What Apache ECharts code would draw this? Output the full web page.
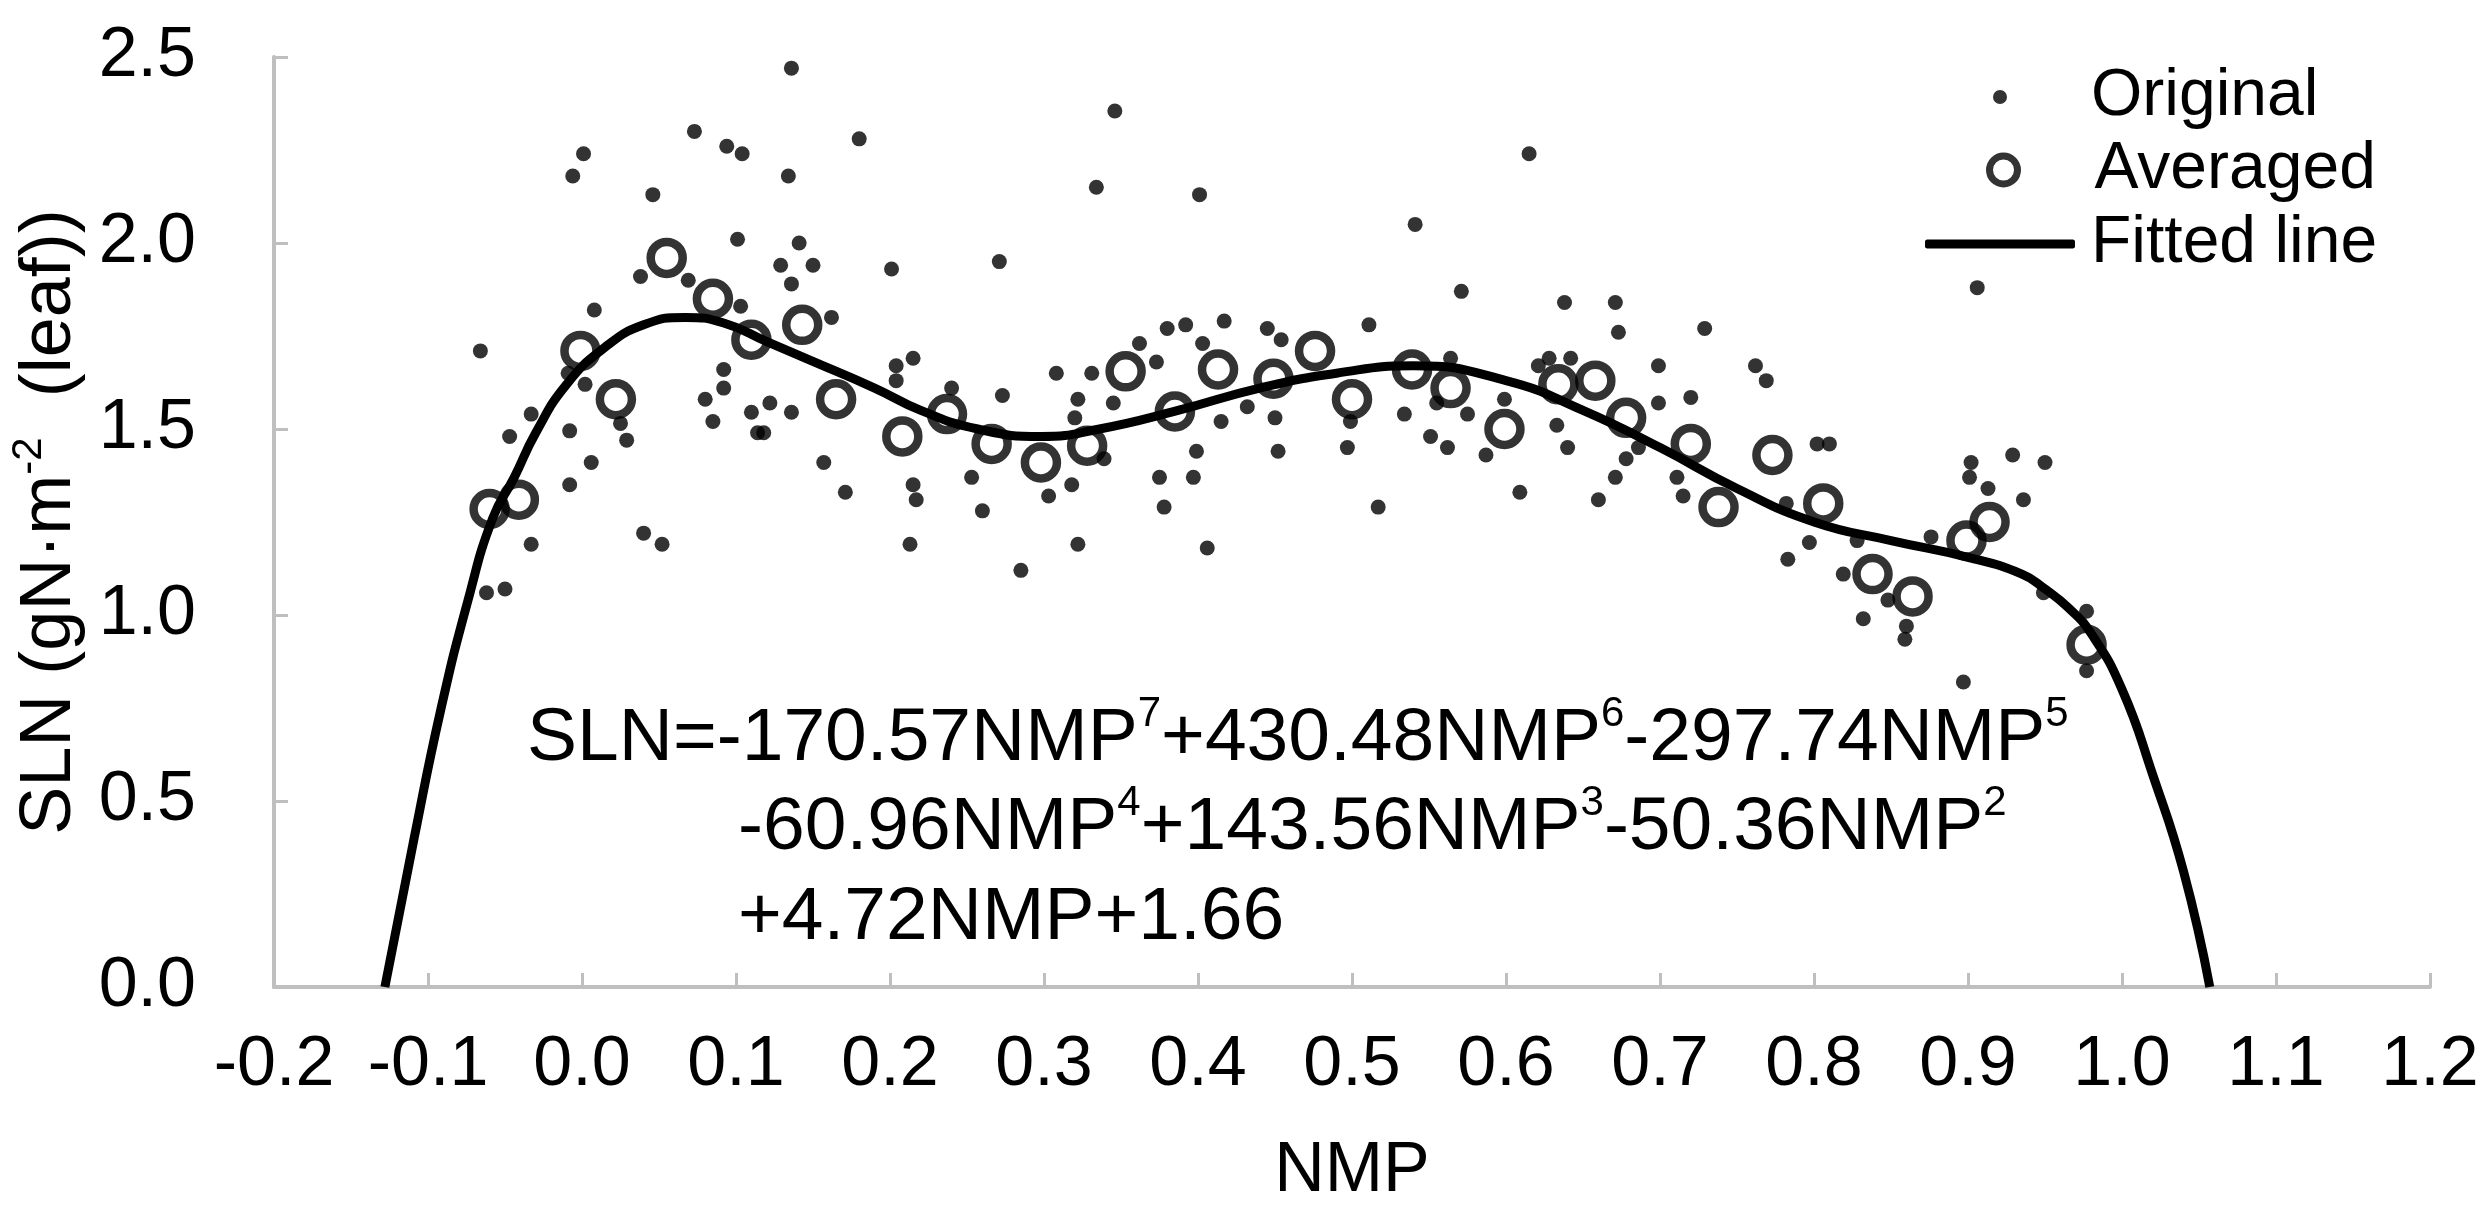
<!DOCTYPE html>
<html>
<head>
<meta charset="utf-8">
<script src="https://cdn.jsdelivr.net/npm/echarts@6/dist/echarts.min.js"></script>
<style>
html,body{margin:0;padding:0;background:#fff;}
#chart{width:2490px;height:1217px;}
</style>
</head>
<body>
<div id="chart"></div>
<script>
// ---- data ----
const originalPoints = [
  [0.136,2.47],[0.073,2.30],[0.094,2.26],[0.104,2.24],[0.180,2.28],[0.001,2.24],[-0.006,2.18],
  [0.134,2.18],[0.046,2.13],[0.101,2.01],[0.141,2.00],[0.129,1.94],[0.150,1.94],[0.136,1.89],
  [0.201,1.93],[0.038,1.91],[0.069,1.90],[0.008,1.82],[-0.066,1.71],[0.103,1.83],[0.162,1.80],
  [0.092,1.66],[0.204,1.67],[0.215,1.69],[0.204,1.63],[0.240,1.61],[-0.009,1.65],
  [0.346,2.355],[0.334,2.15],[0.401,2.13],[0.541,2.05],[0.271,1.95],[0.571,1.87],[0.511,1.78],
  [0.417,1.79],[0.380,1.77],[0.392,1.78],[0.362,1.73],[0.373,1.68],[0.403,1.73],[0.308,1.65],
  [0.331,1.65],[0.445,1.77],[0.454,1.74],[0.564,1.69],
  [0.615,2.24],[0.638,1.84],[0.671,1.84],[0.673,1.76],[0.628,1.69],[0.642,1.69],[0.621,1.67],
  [0.273,1.59],[0.322,1.58],[0.157,1.41],[0.171,1.33],[0.215,1.35],[0.217,1.31],[0.213,1.19],
  [0.253,1.37],[0.260,1.28],[0.285,1.12],[0.303,1.32],[0.318,1.35],[0.322,1.19],[0.375,1.37],
  [0.378,1.29],[0.397,1.37],[0.399,1.44],[0.406,1.18],[0.415,1.52],[0.450,1.53],[0.452,1.44],
  [0.497,1.45],[0.517,1.29],[0.534,1.54],[0.551,1.48],[0.562,1.45],[0.575,1.54],[0.587,1.43],
  [0.609,1.33],[0.640,1.45],[0.660,1.31],[0.671,1.37],[0.678,1.42],[0.633,1.51],[0.345,1.57],
  [0.432,1.56],[0.555,1.57],[0.599,1.58],[0.320,1.53],[0.499,1.52],[0.339,1.42],
  [0.092,1.61],[0.080,1.58],[0.085,1.52],[0.110,1.545],[0.122,1.57],[0.136,1.545],[0.114,1.49],
  [0.118,1.49],[-0.008,1.495],[0.006,1.41],[-0.008,1.35],[-0.033,1.54],[-0.047,1.48],[0.029,1.47],
  [-0.033,1.19],[0.040,1.22],[0.052,1.19],[-0.050,1.07],[-0.062,1.06],[0.002,1.62],[0.025,1.515],
  [0.906,1.88],[0.729,1.77],[0.699,1.67],[0.762,1.67],[0.769,1.63],[0.720,1.585],[0.699,1.57],
  [0.711,1.37],[0.715,1.32],[0.802,1.46],[0.810,1.46],[0.929,1.43],[0.950,1.41],[0.902,1.41],
  [0.901,1.37],[0.913,1.34],[0.936,1.31],[0.783,1.15],[0.797,1.195],[0.819,1.11],[0.832,0.99],
  [0.859,0.935],[0.860,0.97],[0.848,1.04],[0.897,0.82],[0.977,1.01],[0.977,0.85],[0.876,1.21],
  [0.949,1.06],[0.828,1.20],[0.782,1.30],[0.686,1.45]
];
const averagedPoints = [
  [-0.060,1.285],[-0.041,1.31],[-0.001,1.71],[0.022,1.58],[0.055,1.96],[0.085,1.85],[0.110,1.74],
  [0.143,1.78],[0.165,1.58],[0.208,1.48],[0.237,1.54],[0.266,1.46],[0.298,1.41],[0.328,1.455],
  [0.353,1.655],[0.385,1.547],[0.413,1.66],[0.449,1.635],[0.476,1.71],[0.500,1.58],[0.539,1.66],
  [0.564,1.61],[0.599,1.50],[0.634,1.62],[0.658,1.63],[0.678,1.53],[0.720,1.46],[0.738,1.29],
  [0.773,1.43],[0.806,1.30],[0.838,1.11],[0.864,1.05],[0.899,1.20],[0.914,1.25],[0.977,0.92]
];
const fittedX = [-0.128,-0.109,-0.092,-0.074,-0.058,-0.044,-0.030,-0.010,0.015,0.040,0.067,0.092,
  0.120,0.148,0.190,0.220,0.257,0.298,0.336,0.387,0.440,0.490,0.540,0.600,0.650,0.700,0.750,
  0.800,0.850,0.900,0.935,0.950,0.965,0.980,1.000,1.020,1.040,1.057];
const fittedY = [0.00,0.40,0.74,1.04,1.26,1.37,1.49,1.62,1.72,1.78,1.80,1.785,
  1.735,1.685,1.61,1.55,1.50,1.48,1.50,1.55,1.61,1.65,1.67,1.63,1.55,1.45,1.34,
  1.25,1.20,1.155,1.11,1.07,1.02,0.95,0.80,0.57,0.31,0.00];
const xRange = [-0.2, 1.2, 0.1];
const yRange = [0, 2.5, 0.5];
const xTitle = 'NMP';
const seriesNames = ['Original', 'Averaged', 'Fitted line'];
const eqLines = [
  [['m','SLN=-170.57NMP'],['s','7'],['m','+430.48NMP'],['s','6'],['m','-297.74NMP'],['s','5']],
  [['m','-60.96NMP'],['s','4'],['m','+143.56NMP'],['s','3'],['m','-50.36NMP'],['s','2']],
  [['m','+4.72NMP+1.66']]
];

// ---- chart ----
const FONT = '"Liberation Sans", Arial, Helvetica, sans-serif';
const fitted = fittedX.map((x, i) => [x, fittedY[i]]);
const fmt = v => (Math.abs(v) < 1e-9 ? '0.0' : v.toFixed(1));
const axisGray = '#bfbfbf';

const eqPos = [[527, 739], [738, 828], [738, 918]];
const eqRich = {
  m: {fontFamily: FONT, fontSize: 75, color: '#000', lineHeight: 92},
  s: {fontFamily: FONT, fontSize: 42, color: '#555', lineHeight: 42, verticalAlign: 'top'}
};
const graphics = eqLines.map((parts, i) => ({
  type: 'text',
  x: eqPos[i][0], y: eqPos[i][1],
  silent: true,
  style: {
    text: parts.map(p => '{' + p[0] + '|' + p[1] + '}').join(''),
    rich: eqRich,
    verticalAlign: 'middle',
    align: 'left'
  }
}));

const legText = pad => ({fontFamily: FONT, fontSize: 66, color: '#000', padding: [0, 0, 0, pad]});

const chart = echarts.init(document.getElementById('chart'), null, {renderer: 'canvas'});
chart.setOption({
  animation: false,
  backgroundColor: '#fff',
  grid: {left: 262, right: 60, top: 57, bottom: 230, containLabel: false},
  legend: [
    {
      data: [seriesNames[0]], left: 1993, top: 64, orient: 'vertical',
      itemWidth: 14, itemHeight: 14, padding: 0, itemGap: 0, selectedMode: false,
      icon: 'circle', textStyle: legText(79)
    },
    {
      data: [seriesNames[1]], left: 1986, top: 137, orient: 'vertical',
      itemWidth: 28, itemHeight: 28, padding: 0, itemGap: 0, selectedMode: false,
      icon: 'circle', itemStyle: {borderWidth: 7}, textStyle: legText(72)
    },
    {
      data: [seriesNames[2]], left: 1925, top: 211, orient: 'vertical',
      itemWidth: 150, itemHeight: 9, padding: 0, itemGap: 0, selectedMode: false,
      icon: 'roundRect', symbolKeepAspect: false, textStyle: legText(11)
    }
  ],
  xAxis: {
    type: 'value', min: xRange[0], max: xRange[1], interval: xRange[2],
    name: xTitle, nameLocation: 'middle', nameGap: 150,
    nameTextStyle: {fontFamily: FONT, fontSize: 70, color: '#000'},
    axisLine: {show: true, onZero: false, lineStyle: {color: axisGray, width: 4}},
    axisTick: {show: true, inside: true, length: 14, lineStyle: {color: axisGray, width: 3}},
    axisLabel: {formatter: fmt, margin: 44, fontFamily: FONT, fontSize: 70, color: '#000',
      showMinLabel: true, showMaxLabel: true},
    splitLine: {show: false}
  },
  yAxis: {
    type: 'value', min: yRange[0], max: yRange[1], interval: yRange[2],
    name: '{m|SLN (gN·m}{s|-2}{m|  (leaf))}', nameLocation: 'middle', nameGap: 182, nameRotate: 90,
    nameTextStyle: {
      fontFamily: FONT, fontSize: 72, color: '#000',
      rich: {
        m: {fontFamily: FONT, fontSize: 72, color: '#000', lineHeight: 84},
        s: {fontFamily: FONT, fontSize: 42, color: '#000', lineHeight: 42, verticalAlign: 'top'}
      }
    },
    axisLine: {show: true, onZero: false, lineStyle: {color: axisGray, width: 4}},
    axisTick: {show: true, inside: true, length: 14, lineStyle: {color: axisGray, width: 3}},
    axisLabel: {formatter: fmt, margin: 78, fontFamily: FONT, fontSize: 70, color: '#000',
      showMinLabel: true, showMaxLabel: true},
    splitLine: {show: false}
  },
  graphic: graphics,
  series: [
    {
      name: seriesNames[0], type: 'scatter', data: originalPoints,
      symbol: 'circle', symbolSize: 15, silent: true,
      itemStyle: {color: '#000'}, z: 2
    },
    {
      name: seriesNames[1], type: 'scatter', data: averagedPoints,
      symbol: 'circle', symbolSize: 32, silent: true,
      itemStyle: {color: 'rgba(0,0,0,0)', borderColor: '#000', borderWidth: 8.5}, z: 3
    },
    {
      name: seriesNames[2], type: 'line', data: fitted, smooth: true,
      symbol: 'none', showSymbol: false, silent: true,
      lineStyle: {color: '#000', width: 9}, itemStyle: {color: '#000'}, z: 4
    }
  ]
});
</script>
</body>
</html>
